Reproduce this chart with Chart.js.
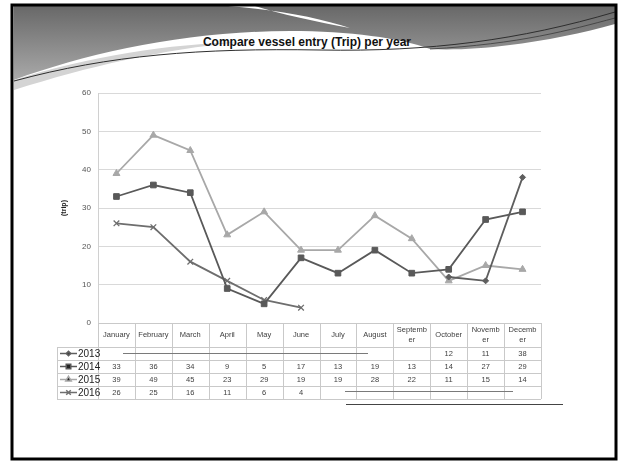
<!DOCTYPE html>
<html>
<head>
<meta charset="utf-8">
<script src="https://cdn.jsdelivr.net/npm/chart.js@4"></script>
<style>
  html, body { margin: 0; padding: 0; background: #fff; }
  #wrap { position: relative; width: 622px; height: 461px; overflow: hidden; }
  #deco { position: absolute; left: 0; top: 0; }
  #myChart { position: absolute; left: 0; top: 0; }
  #title {
    position: absolute; left: 0; width: 614px; top: 35px; text-align: center;
    font: bold 12px "Liberation Sans", Arial, sans-serif; color: #111;
  }
</style>
</head>
<body>
<div id="wrap">
  <svg id="deco" width="622" height="461">
    <defs>
      <linearGradient id="g" x1="0" y1="0" x2="0" y2="1">
        <stop offset="0" stop-color="#686868"/>
        <stop offset="1" stop-color="#a9a9a9"/>
      </linearGradient>
    </defs>
    <path d="M14 6 H615 V24 C560 40 480 52 430 49 C400 38 350 31 290 31 C190 31 90 52 14 80 Z" fill="url(#g)"/>
    <path d="M14 80 C90 56 170 44 240 42 C160 50 90 66 14 90 Z" fill="#d4d4d4"/>
    <path d="M228 6 C280 10 320 18 350 28 C318 22 280 14 255 6 Z" fill="#fff"/>
    <path d="M14 81 C110 55 200 48 320 50 C430 52 520 40 615 12" fill="none" stroke="#2e2e2e" stroke-width="1"/>
    <path d="M430 49 C520 44 570 30 615 18" fill="none" stroke="#3a3a3a" stroke-width="0.8"/>
    <rect x="12" y="5" width="604" height="454" fill="none" stroke="#000" stroke-width="3"/>
  </svg>
  <div id="title">Compare vessel entry (Trip) per year</div>
  <canvas id="myChart" width="622" height="461"></canvas>
</div>
<script>
const months = ['January', 'February', 'March', 'April', 'May', 'June', 'July', 'August', 'September', 'October', 'November', 'December'];
// how the month names wrap in the data table header
const monthLines = [['January'], ['February'], ['March'], ['April'], ['May'], ['June'], ['July'], ['August'],
    ['Septemb', 'er'], ['October'], ['Novemb', 'er'], ['Decemb', 'er']];

const years = ['2013', '2014', '2015', '2016'];
const trips2013 = [null, null, null, null, null, null, null, null, null, 12, 11, 38];
const trips2014 = [33, 36, 34, 9, 5, 17, 13, 19, 13, 14, 27, 29];
const trips2015 = [39, 49, 45, 23, 29, 19, 19, 28, 22, 11, 15, 14];
const trips2016 = [26, 25, 16, 11, 6, 4, null, null, null, null, null, null];

const yTicks = [0, 10, 20, 30, 40, 50, 60];

const colors = ['#5e5e5e', '#595959', '#a8a8a8', '#6e6e6e'];
const markers = ['rectRot', 'rect', 'triangle', 'crossRot'];
const sizes = [3, 4, 4, 4];

const ctx = document.getElementById('myChart');
const FONT = '"Liberation Sans", Arial, sans-serif';

const dataTable = {
    id: 'dataTable',
    afterDraw(chart) {
        const c = chart.ctx;
        const x = chart.scales.x;
        const area = chart.chartArea;
        const colW = (area.right - area.left) / months.length;
        const legendLeft = 57;
        const rowTops = [347, 360, 373, 386, 399];
        const rows = [trips2013, trips2014, trips2015, trips2016];

        c.save();
        c.strokeStyle = '#c9c9c9';
        c.lineWidth = 1;
        // vertical lines of the table
        for (let i = 0; i <= months.length; i++) {
            const px = Math.round(area.left + i * colW) + 0.5;
            c.beginPath();
            c.moveTo(px, area.bottom);
            c.lineTo(px, rowTops[4]);
            c.stroke();
        }
        c.beginPath();
        c.moveTo(legendLeft + 0.5, rowTops[0]);
        c.lineTo(legendLeft + 0.5, rowTops[4]);
        c.stroke();
        // horizontal lines
        c.beginPath();
        c.moveTo(area.left, area.bottom + 0.5);
        c.lineTo(area.right, area.bottom + 0.5);
        c.stroke();
        rowTops.forEach(t => {
            c.beginPath();
            c.moveTo(legendLeft, t + 0.5);
            c.lineTo(area.right, t + 0.5);
            c.stroke();
        });

        // month header
        c.fillStyle = '#404040';
        c.font = '7.5px ' + FONT;
        c.textAlign = 'center';
        c.textBaseline = 'middle';
        const headMid = (area.bottom + rowTops[0]) / 2;
        monthLines.forEach((lines, i) => {
            const cx = x.getPixelForValue(i);
            if (lines.length === 1) {
                c.fillText(lines[0], cx, headMid);
            } else {
                c.fillText(lines[0], cx, headMid - 5);
                c.fillText(lines[1], cx, headMid + 5);
            }
        });

        // values
        rows.forEach((vals, r) => {
            const cy = rowTops[r] + 6.5;
            vals.forEach((v, i) => {
                if (v !== null) c.fillText(String(v), x.getPixelForValue(i), cy);
            });
        });

        // legend keys
        rows.forEach((vals, r) => {
            const cy = rowTops[r] + 6.5;
            c.strokeStyle = colors[r];
            c.lineWidth = 1.5;
            c.beginPath();
            c.moveTo(60, cy);
            c.lineTo(77, cy);
            c.stroke();
            Chart.helpers.drawPoint(c, {
                pointStyle: markers[r], radius: sizes[r] - 0.8, rotation: 0, borderWidth: 1
            }, 68.5, cy);
            c.fillStyle = '#222';
            c.font = '10px ' + FONT;
            c.textAlign = 'left';
            c.fillText(years[r], 78, cy + 0.5);
        });

        // stray lines drawn on the slide
        c.strokeStyle = '#7a7a7a';
        c.lineWidth = 1;
        c.beginPath(); c.moveTo(123, 353.5); c.lineTo(368, 353.5); c.stroke();
        c.beginPath(); c.moveTo(345, 391.5); c.lineTo(513, 391.5); c.stroke();
        c.strokeStyle = '#444';
        c.beginPath(); c.moveTo(346, 404.5); c.lineTo(563, 404.5); c.stroke();
        c.restore();
    }
};

function series(label, data, i) {
    return {
        label: label,
        data: data,
        borderColor: colors[i],
        backgroundColor: colors[i],
        pointBackgroundColor: colors[i],
        pointBorderColor: colors[i],
        pointStyle: markers[i],
        pointRadius: sizes[i],
        pointBorderWidth: i === 3 ? 1.3 : 1,
        borderWidth: 1.8,
        tension: 0,
        spanGaps: false,
        fill: false
    };
}

new Chart(ctx, {
    type: 'line',
    data: {
        labels: months,
        datasets: [
            series(years[0], trips2013, 0),
            series(years[1], trips2014, 1),
            series(years[2], trips2015, 2),
            series(years[3], trips2016, 3)
        ]
    },
    options: {
        responsive: false,
        animation: false,
        devicePixelRatio: 1,
        layout: { padding: { left: 60, right: 81, top: 93, bottom: 138 } },
        plugins: {
            legend: { display: false },
            tooltip: { enabled: false }
        },
        scales: {
            x: {
                offset: true,
                grid: { display: false },
                border: { display: false },
                ticks: { display: false },
                afterFit: s => { s.height = 0; }
            },
            y: {
                min: 0,
                max: 60,
                afterBuildTicks: s => { s.ticks = yTicks.map(v => ({ value: v })); },
                afterFit: s => { s.width = 38; },
                ticks: { color: '#555', font: { size: 8, family: FONT }, padding: 7 },
                grid: { color: '#d9d9d9', drawTicks: false },
                border: { display: true, color: '#d0d0d0' },
                title: {
                    display: true, text: '(trip)', color: '#222',
                    font: { size: 7, weight: 'bold', family: FONT }, padding: 0
                }
            }
        }
    },
    plugins: [dataTable]
});
</script>
</body>
</html>
